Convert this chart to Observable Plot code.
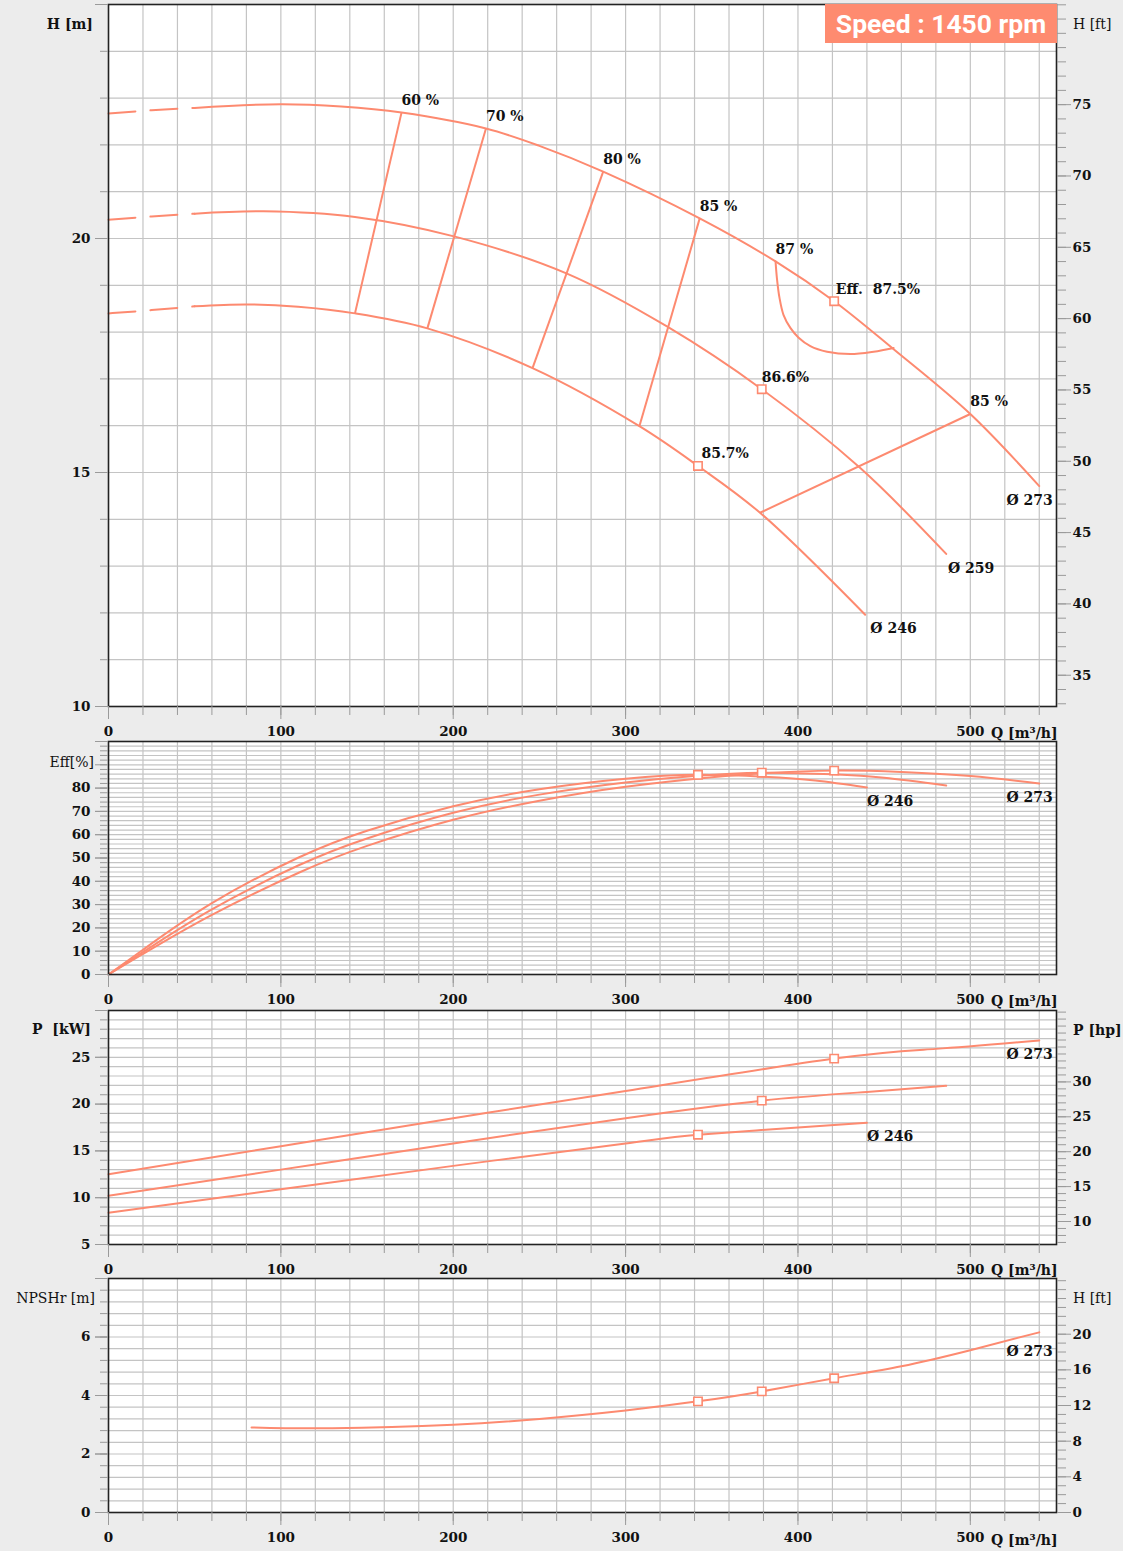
<!DOCTYPE html>
<html><head><meta charset="utf-8">
<script src="https://cdn.jsdelivr.net/npm/d3@7"></script>
<script src="https://cdn.jsdelivr.net/npm/@observablehq/plot@0.6"></script>
<style>
body{margin:0;background:#ececec;}
#root{position:relative;width:1123px;height:1551px;overflow:hidden;background:#ececec;font-family:"DejaVu Serif",serif;}
#root svg{position:absolute;left:0;}
.lbl{position:absolute;font-size:14px;line-height:18px;height:18px;white-space:pre;color:#111;}
.b{font-weight:bold;}
#speed{position:absolute;left:825px;top:4px;width:232px;height:39px;background:#fe8b70;color:#fff;font:bold 26.5px Roboto,sans-serif;display:flex;align-items:center;justify-content:center;}
</style></head><body><div id="root"></div>
<script>
// ---------------- DATA ----------------
const speedText = "Speed : 1450 rpm";
const diameters = ["Ø 273", "Ø 259", "Ø 246"];

// Head curves H [m] vs Q [m3/h]
const h273Q = [0, 25, 50, 100, 135, 170, 219, 250, 287, 343, 387, 421, 455, 500, 540];
const h273H = [22.67, 22.74, 22.79, 22.87, 22.82, 22.69, 22.35, 21.98, 21.43, 20.43, 19.51, 18.66, 17.65, 16.25, 14.71];
const h259Q = [0, 25, 50, 90, 143, 201, 266, 324, 379, 436, 486];
const h259H = [20.40, 20.47, 20.53, 20.58, 20.46, 20.04, 19.25, 18.12, 16.78, 15.10, 13.26];
const h246Q = [0, 25, 50, 80, 110, 143, 185, 246, 308, 342, 378, 439];
const h246H = [18.40, 18.47, 18.55, 18.59, 18.54, 18.40, 18.08, 17.23, 15.99, 15.14, 14.14, 11.96];
const dashedUntilQ = 50;

// Iso-efficiency lines (top point on Ø273, bottom point on Ø246)
const isoNames = ["60 %", "70 %", "80 %", "85 %", "85 %"];
const isoQTop = [170, 219, 287, 343, 500];
const isoHTop = [22.69, 22.35, 21.43, 20.43, 16.25];
const isoQBot = [143, 185, 246, 308, 378];
const isoHBot = [18.40, 18.08, 17.23, 15.99, 14.14];
// 87 % island
const islandQ = [387, 387.8, 389.3, 391.6, 395.6, 400.4, 407.2, 416.9, 430.4, 443.9, 455.5];
const islandH = [19.51, 19.15, 18.73, 18.37, 18.09, 17.88, 17.70, 17.58, 17.53, 17.58, 17.66];

// Best efficiency points
const bepQ = [421, 379, 342];          // Ø273, Ø259, Ø246
const bepH = [18.66, 16.78, 15.14];
const bepEff = [87.5, 86.6, 85.7];
const bepP = [24.86, 20.37, 16.73];
const bepNpsh = [4.59, 4.14, 3.80];

// Efficiency curves [%]
const e273Q = [0, 20, 60, 111, 150, 200, 250, 300, 350, 380, 421, 460, 500, 540];
const e273E = [0, 8.8, 25.6, 43.9, 55.2, 66.4, 74.6, 80.6, 84.7, 86.4, 87.5, 86.9, 85.2, 82];
const e259Q = [0, 20, 60, 111, 150, 200, 250, 300, 340, 379, 420, 450, 486];
const e259E = [0, 9.6, 28, 47.1, 58.4, 69.4, 77.2, 82.4, 85.2, 86.6, 85.9, 84.4, 81.1];
const e246Q = [0, 20, 60, 110, 150, 200, 250, 300, 342, 380, 410, 440];
const e246E = [0, 10.6, 30.6, 50.1, 61.7, 72.2, 79.5, 84, 85.7, 84.9, 83.3, 80.3];

// Power curves P [kW]
const p273Q = [0, 100, 200, 300, 421, 480, 540];
const p273P = [12.5, 15.5, 18.5, 21.4, 24.86, 25.9, 26.8];
const p259Q = [0, 100, 200, 300, 379, 440, 486];
const p259P = [10.2, 13.0, 15.8, 18.5, 20.37, 21.3, 21.95];
const p246Q = [0, 100, 200, 300, 342, 400, 440];
const p246P = [8.4, 10.9, 13.4, 15.8, 16.73, 17.5, 18.0];

// NPSHr [m]
const nQ = [83, 130, 200, 250, 300, 342, 379, 421, 460, 500, 540];
const nN = [2.91, 2.88, 3.0, 3.2, 3.49, 3.80, 4.14, 4.59, 5.0, 5.55, 6.16];

// Tick labels
const qTicks = [0, 100, 200, 300, 400, 500];
const hTicks = [10, 15, 20];
const ftTicksH = [35, 40, 45, 50, 55, 60, 65, 70, 75];
const effTicks = [0, 10, 20, 30, 40, 50, 60, 70, 80];
const pTicks = [5, 10, 15, 20, 25];
const hpTicks = [10, 15, 20, 25, 30];
const nTicks = [0, 2, 4, 6];
const ftTicksN = [0, 4, 8, 12, 16, 20];

// ---------------- DRAWING ----------------
const C = "#fd8a70";
const GRID = "#c4c4c4";
const TICK = "#9a9a9a";
const FT = 0.3048, HP = 0.7457;
const rows = (qs, vs) => qs.map((q, i) => ({q, v: vs[i]}));
const root = document.getElementById("root");
const NUM = {fontSize: 13.5, fontWeight: "bold", label: null};

function axesCommon(o) {
  const marks = [];
  marks.push(Plot.axisX({anchor: "bottom", ticks: d3.range(0, 551, 20), tickSize: 9, tickFormat: () => "", stroke: TICK, label: null}));
  marks.push(Plot.axisX({anchor: "bottom", ticks: qTicks, tickSize: 13, tickPadding: 7, stroke: TICK, ...NUM}));
  marks.push(Plot.axisY({anchor: "left", ticks: o.leftMinor, tickSize: 8, tickFormat: () => "", stroke: TICK, label: null}));
  marks.push(Plot.axisY({anchor: "left", ticks: o.leftMajor, tickSize: 13, tickFormat: () => "", stroke: TICK, label: null}));
  marks.push(Plot.axisY({anchor: "left", ticks: o.leftLabels, tickSize: 13, tickPadding: 5, stroke: TICK, ...NUM}));
  if (o.rightMinor) {
    marks.push(Plot.axisY({anchor: "right", ticks: o.rightMinor, tickSize: 9, tickFormat: () => "", stroke: TICK, label: null}));
    marks.push(Plot.axisY({anchor: "right", ticks: o.rightLabels.map(v => v * o.rightK), tickSize: 14, tickPadding: 2, stroke: TICK,
      tickFormat: d => String(Math.round(d / o.rightK)), ...NUM}));
  }
  return marks;
}

function panel(o) {
  const svg = Plot.plot({
    width: 1123, height: 4 + o.frameH + 34,
    marginTop: 4, marginBottom: 34, marginLeft: 108, marginRight: 67,
    x: {domain: [0, 550], label: null}, y: {domain: o.yDomain, label: null},
    style: {background: "transparent", overflow: "visible", fontFamily: "'DejaVu Serif', serif", color: "#111"},
    marks: [
      Plot.frame({fill: "white", stroke: "none"}),
      Plot.ruleX(d3.range(20, 550, 20), {stroke: GRID, strokeWidth: 1.2}),
      Plot.ruleY(o.gridY, {stroke: GRID, strokeWidth: 1.2}),
      ...o.marks,
      Plot.frame({stroke: "#222", strokeWidth: 1.6}),
      ...axesCommon(o)
    ]
  });
  svg.style.top = (o.top - 4) + "px";
  root.appendChild(svg);
}

const lineOpts = {x: "q", y: "v", stroke: C, strokeWidth: 2, curve: "natural"};
const markerOpts = {symbol: "square", r: 4.7, stroke: C, strokeWidth: 1.6, fill: "white"};
const txt = {fontSize: 14, fontWeight: "bold", fill: "#111", textAnchor: "start"};

// ---- Panel 1 : Head ----
const headSets = [rows(h273Q, h273H), rows(h259Q, h259H), rows(h246Q, h246H)];
const headMarks = [];
headSets.forEach(r => {
  headMarks.push(Plot.line(r.filter(d => d.q <= dashedUntilQ), {...lineOpts, strokeDasharray: "27,15"}));
  headMarks.push(Plot.line(r.filter(d => d.q >= dashedUntilQ), {...lineOpts, curve: "catmull-rom"}));
});
const isoRows = isoNames.map((n, i) => ({n, x1: isoQTop[i], y1: isoHTop[i], x2: isoQBot[i], y2: isoHBot[i]}));
headMarks.push(Plot.link(isoRows, {x1: "x1", y1: "y1", x2: "x2", y2: "y2", stroke: C, strokeWidth: 2}));
headMarks.push(Plot.line(rows(islandQ, islandH), {...lineOpts, curve: "catmull-rom"}));
headMarks.push(Plot.dot(rows(bepQ, bepH), {x: "q", y: "v", ...markerOpts}));
const effLabels = [
  ...isoRows.map(d => ({t: d.n, q: d.x1, h: d.y1})),
  {t: "87 %", q: islandQ[0], h: islandH[0]},
  {t: "Eff.\u00a0 " + bepEff[0] + "%", q: bepQ[0] + 1, h: bepH[0]},
  {t: bepEff[1] + "%", q: bepQ[1], h: bepH[1]},
  {t: bepEff[2] + "%", q: bepQ[2] + 2, h: bepH[2]}
];
headMarks.push(Plot.text(effLabels, {x: "q", y: "h", text: "t", dy: -12, ...txt}));
headMarks.push(Plot.text([
  {t: diameters[0], q: 521, h: 14.41}, {t: diameters[1], q: 487, h: 12.94}, {t: diameters[2], q: 442, h: 11.66}
], {x: "q", y: "h", text: "t", ...txt}));

panel({
  top: 4, frameH: 702, yDomain: [10, 25], gridY: d3.range(11, 25, 1),
  leftMinor: d3.range(10, 26), leftMajor: [10, 15, 20, 25], leftLabels: hTicks,
  rightMinor: d3.range(33, 83).map(f => f * FT), rightLabels: ftTicksH, rightK: FT,
  marks: headMarks
});

// ---- Panel 2 : Efficiency ----
panel({
  top: 741, frameH: 233, yDomain: [0, 100], gridY: d3.range(2, 100, 2),
  leftMinor: d3.range(0, 101, 2), leftMajor: d3.range(0, 101, 10), leftLabels: effTicks,
  marks: [
    Plot.line(rows(e273Q, e273E), lineOpts),
    Plot.line(rows(e259Q, e259E), lineOpts),
    Plot.line(rows(e246Q, e246E), lineOpts),
    Plot.dot(rows(bepQ, bepEff), {x: "q", y: "v", ...markerOpts}),
    Plot.text([{t: diameters[2], q: 440, v: 74.2}, {t: diameters[0], q: 521, v: 76}], {x: "q", y: "v", text: "t", ...txt})
  ]
});

// ---- Panel 3 : Power ----
panel({
  top: 1010, frameH: 234, yDomain: [5, 30], gridY: d3.range(6, 30, 1),
  leftMinor: d3.range(5, 31), leftMajor: d3.range(5, 31, 5), leftLabels: pTicks,
  rightMinor: d3.range(7, 41).map(h => h * HP), rightLabels: hpTicks, rightK: HP,
  marks: [
    Plot.line(rows(p273Q, p273P), lineOpts),
    Plot.line(rows(p259Q, p259P), lineOpts),
    Plot.line(rows(p246Q, p246P), lineOpts),
    Plot.dot(rows(bepQ, bepP), {x: "q", y: "v", ...markerOpts}),
    Plot.text([{t: diameters[0], q: 521, v: 25.29}, {t: diameters[2], q: 440, v: 16.5}], {x: "q", y: "v", text: "t", ...txt})
  ]
});

// ---- Panel 4 : NPSHr ----
panel({
  top: 1278, frameH: 234, yDomain: [0, 8], gridY: d3.range(0.4, 8, 0.4),
  leftMinor: d3.range(0, 8.01, 0.4), leftMajor: [0, 2, 4, 6, 8], leftLabels: nTicks,
  rightMinor: d3.range(0, 27).map(f => f * FT), rightLabels: ftTicksN, rightK: FT,
  marks: [
    Plot.line(rows(nQ, nN), lineOpts),
    Plot.dot(rows(bepQ, bepNpsh), {x: "q", y: "v", ...markerOpts}),
    Plot.text([{t: diameters[0], q: 521, v: 5.51}], {x: "q", y: "v", text: "t", ...txt})
  ]
});

// ---- HTML titles ----
function lbl(text, cy, opt) {
  const d = document.createElement("div");
  d.className = "lbl" + (opt.bold ? " b" : "");
  d.textContent = text;
  d.style.top = (cy - 9) + "px";
  if (opt.right != null) { d.style.right = (1123 - opt.right) + "px"; d.style.textAlign = "right"; }
  else d.style.left = opt.left + "px";
  root.appendChild(d);
}
lbl("H [m]", 24, {right: 93, bold: true});
lbl("H [ft]", 24, {left: 1073});
lbl("Eff[%]", 762, {right: 94});
lbl("P  [kW]", 1029, {right: 91, bold: true});
lbl("P [hp]", 1030, {left: 1073, bold: true});
lbl("NPSHr [m]", 1298, {right: 95});
lbl("H [ft]", 1298, {left: 1073});
[733, 1001, 1270, 1540].forEach(y => lbl("Q [m³/h]", y, {left: 991, bold: true}));
const sp = document.createElement("div");
sp.id = "speed"; sp.textContent = speedText; root.appendChild(sp);
</script></body></html>
